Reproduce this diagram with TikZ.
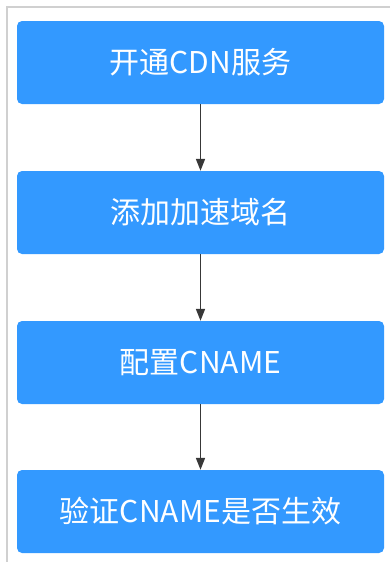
\documentclass[tikz,border=0pt]{standalone}
\usepackage{fontspec}
\newfontfamily\cjk{Noto Sans CJK SC}
\usetikzlibrary{arrows.meta}
\definecolor{boxblue}{RGB}{51,153,255}
\definecolor{framegray}{RGB}{208,208,208}
\definecolor{arrowgray}{RGB}{56,56,56}
\tikzset{
  stepbox/.style={draw=none, fill=boxblue, rounded corners=5pt, minimum width=367pt, minimum height=83pt,
    text=white, font=\cjk\fontsize{30}{34}\selectfont, inner sep=0pt},
  flow/.style={draw=arrowgray, line width=1.6pt, -{Triangle[length=12pt,width=9pt]}},
  frameline/.style={draw=framegray, line width=2pt}
}
\begin{document}
\begin{tikzpicture}[x=1pt,y=-1pt]
\useasboundingbox (0,0) rectangle (390,562);
\draw[frameline] (7,562) -- (7,7) -- (390,7);
\node[stepbox] (s1) at (200.5,62.5) {开通CDN服务};
\node[stepbox] (s2) at (200.5,212.5) {添加加速域名};
\node[stepbox] (s3) at (200.5,362.5) {配置CNAME};
\node[stepbox] (s4) at (200.5,511.5) {验证CNAME是否生效};
\draw[flow] (s1) -- (s2);
\draw[flow] (s2) -- (s3);
\draw[flow] (s3) -- (s4);
\end{tikzpicture}
\end{document}
